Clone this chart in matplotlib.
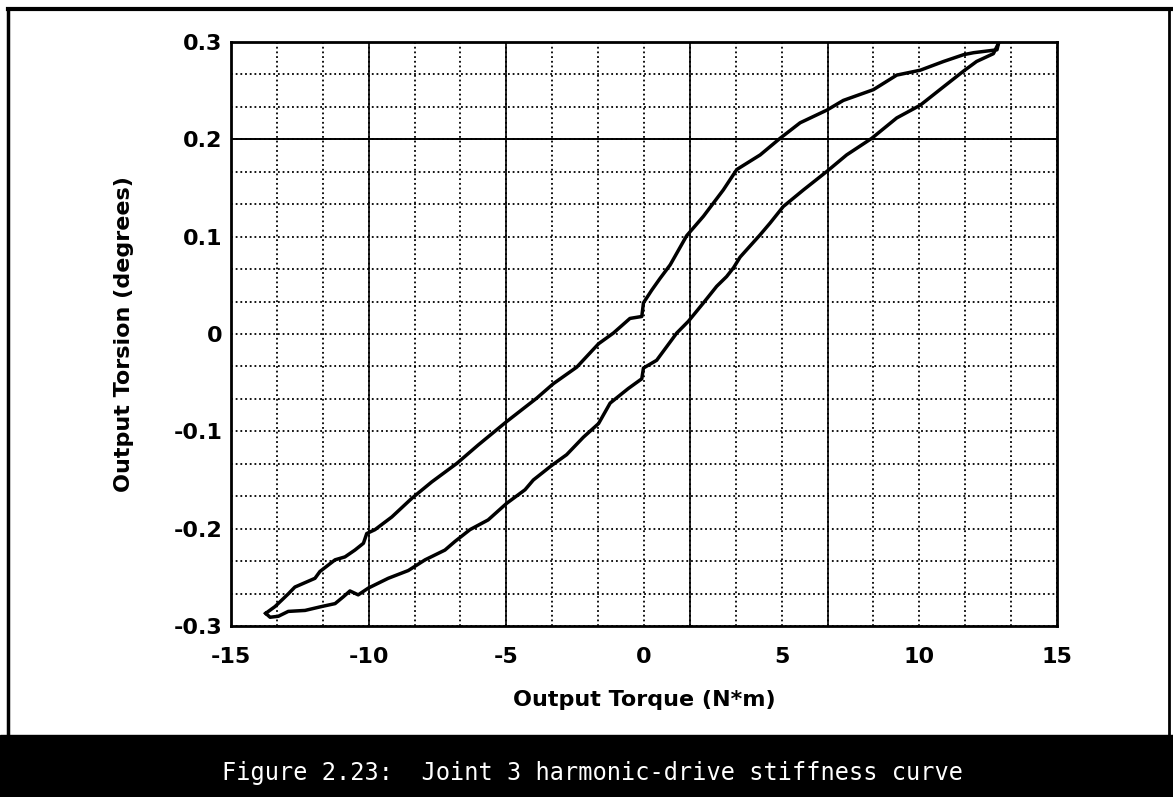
import matplotlib
matplotlib.use("Agg")
import matplotlib.pyplot as plt
from matplotlib.ticker import MultipleLocator
from matplotlib.lines import Line2D
from matplotlib.patches import Rectangle

# loading branch (lower / right side of the loop), N*m vs degrees
torque_load = [-13.74, -13.58, -13.28, -12.92, -12.31, -11.71, -11.22, -10.92, -10.68, -10.38,
               -10.01, -9.29, -8.56, -7.95, -7.23, -6.86, -6.32, -5.66, -4.99, -4.32,
               -4.02, -3.35, -2.81, -2.20, -1.65, -1.23, -0.57, -0.08, -0.02, 0.46,
               1.19, 1.61, 2.16, 2.64, 3.00, 3.25, 3.49, 4.22, 4.58, 5.06,
               5.79, 6.64, 7.36, 8.27, 9.18, 10.03, 10.88, 11.60, 12.08, 12.69, 12.88]
torsion_load = [-0.287, -0.291, -0.290, -0.285, -0.284, -0.280, -0.277, -0.270, -0.264, -0.268,
                -0.261, -0.251, -0.243, -0.232, -0.222, -0.213, -0.201, -0.191, -0.174, -0.160,
                -0.150, -0.135, -0.124, -0.106, -0.092, -0.071, -0.056, -0.046, -0.035, -0.027,
                0.001, 0.013, 0.032, 0.049, 0.059, 0.068, 0.079, 0.102, 0.114, 0.131,
                0.148, 0.167, 0.184, 0.201, 0.222, 0.235, 0.254, 0.270, 0.280, 0.288, 0.299]

# unloading branch (upper / left side of the loop)
torque_unload = [12.88, 12.82, 11.97, 11.61, 10.88, 10.03, 9.18, 8.33, 7.24, 6.64,
                 5.67, 4.94, 4.22, 3.37, 2.88, 2.16, 1.55, 0.95, 0.58, 0.28,
                 -0.02, -0.08, -0.51, -1.11, -1.65, -2.44, -3.29, -3.90, -4.99, -6.02,
                 -6.80, -7.71, -8.44, -9.16, -9.77, -10.07, -10.19, -10.50, -10.86, -11.22,
                 -11.77, -11.95, -12.68, -12.92, -13.40, -13.74]
torsion_unload = [0.299, 0.292, 0.289, 0.287, 0.280, 0.271, 0.266, 0.251, 0.240, 0.230,
                  0.217, 0.201, 0.184, 0.169, 0.148, 0.121, 0.101, 0.071, 0.057, 0.045,
                  0.032, 0.018, 0.016, 0.001, -0.010, -0.034, -0.051, -0.066, -0.090, -0.114,
                  -0.133, -0.152, -0.169, -0.188, -0.201, -0.205, -0.215, -0.222, -0.229, -0.232,
                  -0.244, -0.251, -0.260, -0.267, -0.280, -0.287]

xticks = [-15, -10, -5, 0, 5, 10, 15]
yticks = [-0.3, -0.2, -0.1, 0, 0.1, 0.2, 0.3]
ytick_labels = ["-0.3", "-0.2", "-0.1", "0", "0.1", "0.2", "0.3"]

W, H = 1173, 797
fig = plt.figure(figsize=(W / 100, H / 100), dpi=100)
ax = fig.add_axes([231 / W, 1 - 626 / H, 826 / W, 584 / H])

ax.plot(torque_load, torsion_load, color="black", lw=2.5, solid_joinstyle="round")
ax.plot(torque_unload, torsion_unload, color="black", lw=2.5, solid_joinstyle="round")

ax.set_xlim(-15, 15)
ax.set_ylim(-0.3, 0.3)
ax.set_xticks(xticks)
ax.set_xticklabels([str(t) for t in xticks])
ax.set_yticks(yticks)
ax.set_yticklabels(ytick_labels)
ax.xaxis.set_minor_locator(MultipleLocator(5 / 3))
ax.yaxis.set_minor_locator(MultipleLocator(0.1 / 3))
ax.tick_params(which="both", length=0)
ax.tick_params(axis="x", pad=15)
ax.tick_params(axis="y", pad=6)
for lab in ax.get_xticklabels() + ax.get_yticklabels():
    lab.set_fontfamily("DejaVu Sans")
    lab.set_fontweight("bold")
    lab.set_fontsize(16)

ax.grid(which="both", color="black", linestyle=(0, (1, 1.6)), lw=1.3)
# a few grid lines came out solid in the printed figure
for xv in [-10, -5, 5 / 3, 20 / 3]:
    ax.axvline(xv, color="black", lw=1.2)
ax.axhline(0.2, color="black", lw=1.4)

for s in ax.spines.values():
    s.set_linewidth(2)

ax.set_xlabel("Output Torque (N*m)", fontfamily="DejaVu Sans",
              fontweight="bold", fontsize=16)
ax.xaxis.set_label_coords(0.5, -0.11)
ax.set_ylabel("Output Torsion (degrees)", fontfamily="DejaVu Sans",
              fontweight="bold", fontsize=16)
ax.yaxis.set_label_coords(-0.118, 0.5)

# page frame and caption bar
fig.add_artist(Line2D([8 / W, 8 / W], [0, 1 - 9 / H], color="black", lw=2.5,
                      transform=fig.transFigure))
fig.add_artist(Line2D([8 / W, 1], [1 - 9 / H, 1 - 9 / H], color="black", lw=3,
                      transform=fig.transFigure))
fig.add_artist(Line2D([1 - 4 / W, 1 - 4 / W], [0, 1 - 9 / H], color="black", lw=2,
                      transform=fig.transFigure))
fig.add_artist(Rectangle((0, 0), 1, 62 / H, color="black", transform=fig.transFigure))
fig.text(593 / W, 1 - 773 / H, "Figure 2.23:  Joint 3 harmonic-drive stiffness curve",
         color="white", fontfamily="DejaVu Sans Mono", fontsize=17, va="center", ha="center")

fig.savefig("out.png", dpi=100)
